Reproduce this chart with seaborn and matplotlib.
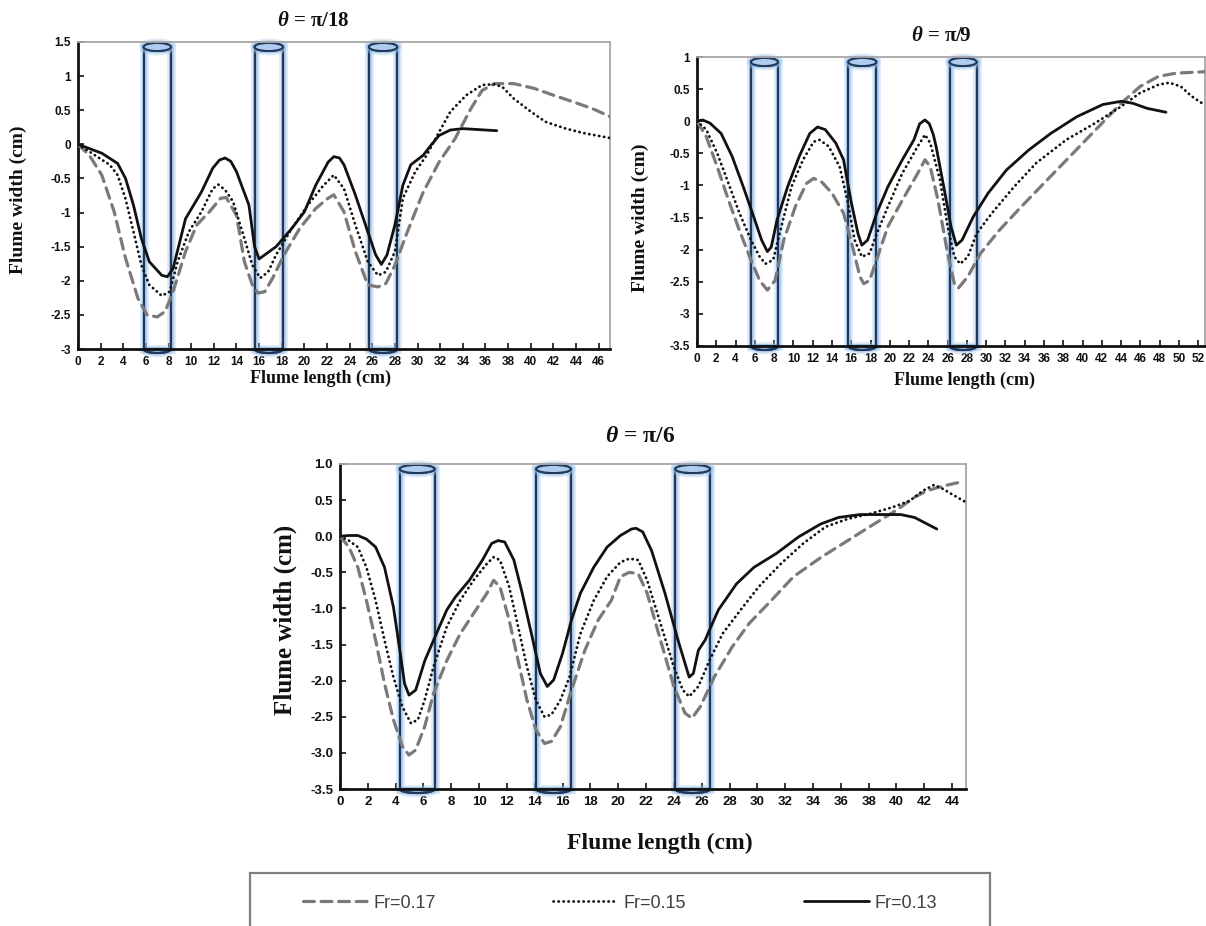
import numpy as np
import pandas as pd
import seaborn as sns
import matplotlib.pyplot as plt
from matplotlib.patches import Rectangle, Ellipse, Arc
import matplotlib.patheffects as pe

# ---------------------------------------------------------------- data
series_labels = ["Fr=0.17", "Fr=0.15", "Fr=0.13"]
panel_titles = [r"$\theta$ = π/18", r"$\theta$ = π/9", r"$\theta$ = π/6"]

# theta = pi/18
p1_fr17_x = [0, 1, 2.1, 3.2, 4.2, 5.3, 6.1, 7.0, 7.7, 8.4, 9.5, 10.5, 11.6, 12.6, 13.1, 14.0,
             14.7, 15.4, 15.9, 16.5, 17.2, 18.2, 19.6, 21.0, 22.1, 22.6, 23.5, 24.5, 25.6,
             26.5, 27.2, 28.0, 29.1, 30.5, 31.9, 33.3, 34.7, 35.7, 36.8, 38.5, 40.3, 42.0,
             43.8, 45.5, 47.1]
p1_fr17_y = [0, -0.16, -0.45, -0.99, -1.67, -2.26, -2.5, -2.53, -2.45, -2.16, -1.57, -1.18,
             -0.99, -0.79, -0.78, -1.04, -1.72, -2.06, -2.18, -2.16, -1.96, -1.62, -1.23,
             -0.94, -0.79, -0.74, -0.99, -1.57, -2.06, -2.09, -2.04, -1.77, -1.28, -0.7,
             -0.26, 0.08, 0.52, 0.79, 0.89, 0.89, 0.82, 0.72, 0.62, 0.52, 0.4]
p1_fr15_x = [0, 1.4, 2.8, 3.5, 4.2, 4.9, 5.6, 6.3, 7.4, 8.1, 8.8, 9.8, 10.9, 11.9, 12.4, 13.0,
             13.7, 14.7, 15.4, 16.1, 16.8, 17.5, 18.9, 20.3, 21.7, 22.6, 23.5, 24.5, 25.6,
             26.5, 27.2, 28.0, 28.7, 29.8, 30.8, 31.9, 32.9, 34.3, 35.7, 36.8, 37.5, 38.5,
             40.0, 41.3, 43.1, 44.8, 47.1]
p1_fr15_y = [0, -0.15, -0.3, -0.45, -0.8, -1.28, -1.77, -2.06, -2.22, -2.16, -1.72, -1.28,
             -0.99, -0.65, -0.59, -0.67, -0.84, -1.38, -1.77, -1.96, -1.87, -1.62, -1.23,
             -0.89, -0.6, -0.45, -0.65, -1.18, -1.72, -1.92, -1.87, -1.57, -0.79, -0.4,
             -0.16, 0.18, 0.48, 0.72, 0.87, 0.88, 0.84, 0.67, 0.48, 0.33, 0.23, 0.16, 0.09]
p1_fr13_x = [0, 2.1, 3.5, 4.2, 4.9, 5.6, 6.3, 7.4, 7.9, 8.4, 9.5, 10.9, 11.9, 12.5, 13.0, 13.5,
             14.0, 15.1, 15.6, 16.0, 17.5, 18.9, 20.0, 21.0, 22.1, 22.6, 23.1, 23.5, 24.5,
             25.6, 26.3, 26.8, 27.3, 28.0, 28.7, 29.4, 30.5, 31.2, 31.9, 32.9, 34.0, 35.0,
             37.0]
p1_fr13_y = [0, -0.13, -0.28, -0.5, -0.89, -1.38, -1.72, -1.92, -1.94, -1.82, -1.09, -0.7,
             -0.35, -0.23, -0.2, -0.25, -0.4, -0.89, -1.5, -1.68, -1.5, -1.23, -0.99, -0.6,
             -0.26, -0.18, -0.2, -0.3, -0.74, -1.28, -1.62, -1.76, -1.62, -1.18, -0.6, -0.3,
             -0.16, -0.01, 0.13, 0.21, 0.23, 0.22, 0.2]

# theta = pi/9
p2_fr17_x = [0, 0.96, 2.1, 3.27, 4.4, 5.6, 6.5, 7.3, 8.1, 9.0, 10.2, 11.35, 12.1, 12.9, 14.0,
             15.2, 16.15, 16.9, 17.3, 17.9, 18.85, 19.8, 21.3, 22.9, 23.65, 24.2, 25.0, 26.0,
             26.7, 27.1, 28.1, 29.4, 31.35, 33.65, 36.35, 39.0, 41.7, 44.0, 45.96, 47.9,
             49.8, 52.7]
p2_fr17_y = [0, -0.24, -0.71, -1.23, -1.7, -2.16, -2.48, -2.63, -2.48, -1.85, -1.33, -0.97,
             -0.89, -0.94, -1.12, -1.43, -1.96, -2.42, -2.53, -2.48, -2.06, -1.64, -1.23,
             -0.81, -0.6, -0.71, -1.23, -2.06, -2.53, -2.6, -2.42, -2.06, -1.7, -1.33,
             -0.91, -0.5, -0.08, 0.28, 0.54, 0.7, 0.75, 0.77]
p2_fr15_x = [0, 0.96, 2.1, 3.27, 4.4, 5.6, 6.5, 7.1, 7.9, 8.65, 9.8, 11.0, 12.1, 12.7, 13.65,
             14.8, 15.6, 16.35, 17.1, 17.9, 18.65, 19.8, 21.3, 22.9, 23.65, 24.2, 25.2, 26.0,
             26.7, 27.3, 28.1, 29.0, 30.6, 32.9, 35.2, 38.3, 41.3, 44.0, 45.96, 47.9, 49.0,
             50.2, 51.3, 52.7]
p2_fr15_y = [0, -0.13, -0.5, -0.97, -1.43, -1.85, -2.11, -2.22, -2.16, -1.7, -1.02, -0.6,
             -0.32, -0.29, -0.39, -0.71, -1.23, -1.85, -2.11, -2.06, -1.75, -1.33, -0.81,
             -0.39, -0.21, -0.34, -0.91, -1.64, -2.11, -2.22, -2.11, -1.75, -1.43, -1.02,
             -0.65, -0.29, -0.03, 0.23, 0.44, 0.57, 0.6, 0.54, 0.39, 0.25]
p2_fr13_x = [0, 0.58, 1.35, 2.5, 3.65, 4.8, 6.0, 6.7, 7.3, 7.7, 8.3, 9.4, 10.6, 11.7, 12.5,
             13.3, 14.4, 15.2, 15.96, 16.7, 17.1, 17.7, 18.65, 19.8, 21.3, 22.5, 23.1, 23.65,
             24.1, 24.5, 24.8, 25.6, 26.35, 26.9, 27.5, 28.65, 30.2, 32.1, 34.4, 36.7, 39.4,
             42.1, 44.0, 45.2, 46.7, 48.65]
p2_fr13_y = [0, 0.02, -0.03, -0.19, -0.55, -1.02, -1.54, -1.85, -2.03, -1.96, -1.54, -1.02,
             -0.55, -0.19, -0.09, -0.13, -0.34, -0.6, -1.23, -1.75, -1.93, -1.85, -1.43,
             -1.02, -0.6, -0.29, -0.04, 0.02, -0.04, -0.2, -0.39, -1.02, -1.64, -1.93, -1.85,
             -1.49, -1.12, -0.76, -0.45, -0.19, 0.07, 0.26, 0.31, 0.28, 0.2, 0.14]

# theta = pi/6
p3_fr17_x = [0, 0.64, 1.28, 1.9, 2.56, 3.2, 3.84, 4.48, 4.96, 5.44, 6.08, 6.72, 7.68, 8.64,
             9.6, 10.56, 11.04, 11.5, 12.16, 12.8, 13.44, 14.08, 14.7, 15.2, 15.84, 16.64,
             17.6, 18.56, 19.5, 20.16, 20.8, 21.44, 22.08, 23.04, 24.0, 24.8, 25.3, 25.9,
             26.9, 28.2, 29.4, 31.0, 32.6, 34.6, 36.5, 38.4, 40.0, 41.3, 42.2, 42.9, 43.7,
             44.6]
p3_fr17_y = [0, -0.15, -0.43, -0.89, -1.44, -2.04, -2.54, -2.91, -3.03, -2.96, -2.64, -2.18,
             -1.72, -1.35, -1.07, -0.79, -0.61, -0.7, -1.16, -1.72, -2.27, -2.68, -2.87,
             -2.84, -2.64, -2.13, -1.58, -1.16, -0.89, -0.56, -0.5, -0.52, -0.79, -1.44,
             -2.08, -2.45, -2.52, -2.36, -1.95, -1.53, -1.21, -0.89, -0.56, -0.29, -0.06,
             0.17, 0.36, 0.54, 0.63, 0.67, 0.71, 0.75]
p3_fr15_x = [0, 0.64, 1.28, 1.9, 2.56, 3.2, 3.84, 4.48, 5.1, 5.6, 6.08, 6.72, 7.68, 8.64, 9.6,
             10.56, 11.04, 11.5, 12.16, 12.8, 13.44, 14.08, 14.7, 15.2, 15.84, 16.5, 17.28,
             18.24, 19.2, 20.16, 20.8, 21.44, 22.08, 23.04, 24.0, 24.64, 25.1, 25.76, 26.56,
             27.5, 28.8, 30.1, 31.7, 33.3, 34.9, 36.5, 38.1, 39.7, 40.96, 41.9, 42.7, 43.3,
             44.0, 45.0]
p3_fr15_y = [0, -0.06, -0.15, -0.43, -0.89, -1.44, -1.95, -2.36, -2.59, -2.54, -2.27, -1.81,
             -1.25, -0.89, -0.61, -0.38, -0.29, -0.33, -0.7, -1.25, -1.81, -2.27, -2.5, -2.47,
             -2.27, -1.95, -1.35, -0.89, -0.56, -0.36, -0.31, -0.33, -0.61, -1.21, -1.81,
             -2.13, -2.22, -2.08, -1.72, -1.35, -1.02, -0.7, -0.38, -0.1, 0.13, 0.24, 0.31,
             0.4, 0.49, 0.63, 0.71, 0.66, 0.58, 0.47]
p3_fr13_x = [0, 0.64, 1.28, 1.9, 2.56, 3.2, 3.84, 4.3, 4.64, 4.96, 5.44, 6.1, 7.04, 7.68, 8.3,
             9.3, 10.24, 10.9, 11.36, 11.84, 12.5, 13.1, 13.76, 14.4, 14.9, 15.36, 16.0,
             16.64, 17.28, 18.24, 19.2, 20.16, 20.96, 21.28, 21.76, 22.4, 23.36, 24.3, 24.8,
             25.1, 25.4, 25.76, 26.24, 27.2, 28.5, 29.76, 31.36, 32.96, 34.56, 35.84, 37.4,
             39.0, 40.3, 41.3, 42.2, 42.9]
p3_fr13_y = [0, 0.01, 0.01, -0.04, -0.15, -0.43, -0.98, -1.58, -2.04, -2.2, -2.13, -1.72,
             -1.3, -1.02, -0.84, -0.61, -0.33, -0.1, -0.06, -0.08, -0.33, -0.79, -1.35, -1.9,
             -2.08, -1.99, -1.62, -1.16, -0.79, -0.43, -0.15, 0.01, 0.1, 0.11, 0.06, -0.2,
             -0.79, -1.44, -1.76, -1.95, -1.9, -1.58, -1.44, -1.02, -0.66, -0.43, -0.24,
             -0.01, 0.17, 0.26, 0.3, 0.3, 0.3, 0.26, 0.17, 0.1]

# pier (cylinder) positions along the flume, cm
p1_piers = [(5.8, 8.2), (15.6, 18.1), (25.7, 28.2)]
p2_piers = [(5.6, 8.4), (15.7, 18.6), (26.2, 29.0)]
p3_piers = [(4.3, 6.8), (14.1, 16.6), (24.1, 26.6)]

p1_xlim, p1_ylim, p1_yticks = (0, 47), (-3, 1.5), [-3, -2.5, -2, -1.5, -1, -0.5, 0, 0.5, 1, 1.5]
p2_xlim, p2_ylim, p2_yticks = (0, 52.7), (-3.5, 1), [-3.5, -3, -2.5, -2, -1.5, -1, -0.5, 0, 0.5, 1]
p3_xlim, p3_ylim, p3_yticks = (0, 45), (-3.5, 1.0), [-3.5, -3.0, -2.5, -2.0, -1.5, -1.0, -0.5, 0.0, 0.5, 1.0]
p1_ylabels = ["-3", "-2.5", "-2", "-1.5", "-1", "-0.5", "0", "0.5", "1", "1.5"]
p2_ylabels = ["-3.5", "-3", "-2.5", "-2", "-1.5", "-1", "-0.5", "0", "0.5", "1"]
p3_ylabels = ["-3.5", "-3.0", "-2.5", "-2.0", "-1.5", "-1.0", "-0.5", "0.0", "0.5", "1.0"]

# ---------------------------------------------------------------- style
sns.set_theme(style="white")
plt.rcParams["font.family"] = ["Liberation Serif", "DejaVu Serif"]
plt.rcParams["mathtext.fontset"] = "custom"
plt.rcParams["mathtext.it"] = "Liberation Serif:italic:bold"
plt.rcParams["mathtext.rm"] = "Liberation Serif:bold"
TICK_FONT = ["Liberation Sans Narrow", "Liberation Sans"]

W, H = 1206, 926
fig = plt.figure(figsize=(W / 100, H / 100), dpi=100)
fig.patch.set_facecolor("white")


def px_axes(left, right, top, bottom):
    return fig.add_axes([left / W, 1 - bottom / H, (right - left) / W, (bottom - top) / H])


STYLES = {
    "Fr=0.17": dict(color="#7a7a7a", lw=2.3, linestyle=(0, (3.4, 2.1)), dash_capstyle="round"),
    "Fr=0.15": dict(color="#111111", lw=2.0, linestyle=(0, (0.1, 1.7)), dash_capstyle="round"),
    "Fr=0.13": dict(color="#111111", lw=2.0, linestyle="-", solid_capstyle="round",
                    solid_joinstyle="round"),
}


def draw_pier(ax, x0, x1, ax_h_px):
    trans = ax.get_xaxis_transform()
    eh = 8.0 / ax_h_px
    ytop = 1 - 5.0 / ax_h_px
    ybot = 0.0
    navy = "#22385a"
    glow = [pe.withStroke(linewidth=6.5, foreground="#a7c9ee", alpha=0.35),
            pe.withStroke(linewidth=3.8, foreground="#8fbbe8", alpha=0.55),
            pe.Normal()]
    body = Rectangle((x0, ybot), x1 - x0, ytop - ybot, transform=trans, fill=False,
                     edgecolor=navy, lw=1.5, clip_on=False, zorder=2, path_effects=glow)
    ax.add_patch(body)
    cap = Ellipse(((x0 + x1) / 2, ytop), x1 - x0, eh, transform=trans, facecolor="#aecdee",
                  edgecolor=navy, lw=1.4, clip_on=False, zorder=2.5, path_effects=glow)
    ax.add_patch(cap)
    base = Arc(((x0 + x1) / 2, ybot), x1 - x0, eh, theta1=180, theta2=360, transform=trans,
               edgecolor=navy, lw=1.5, clip_on=False, zorder=2.5, path_effects=glow)
    ax.add_patch(base)


def make_panel(rect, xlim, ylim, yticks, ylabels, xtick_max, piers, data, tick_size):
    left, right, top, bottom = rect
    ax = px_axes(left, right, top, bottom)
    ax.set_facecolor("white")
    for (x0, x1) in piers:
        draw_pier(ax, x0, x1, bottom - top)
    for label, (xs, ys) in zip(series_labels, data):
        df = pd.DataFrame({"x": xs, "y": ys})
        sns.lineplot(data=df, x="x", y="y", ax=ax, sort=False, estimator=None,
                     label=label, zorder=3, **STYLES[label])
    ax.set_xlim(*xlim)
    ax.set_ylim(*ylim)
    xt = list(range(0, xtick_max + 1, 2))
    ax.set_xticks(xt)
    ax.set_xticklabels([str(v) for v in xt], fontfamily=TICK_FONT, fontweight="bold",
                       fontsize=tick_size)
    ax.set_yticks(yticks)
    ax.set_yticklabels(ylabels, fontfamily=TICK_FONT, fontweight="bold", fontsize=tick_size)
    ax.tick_params(axis="both", direction="in", length=4, width=1.2, colors="#111111",
                   pad=5, bottom=True, left=True)
    ax.set_xlabel("")
    ax.set_ylabel("")
    for side in ("left", "bottom"):
        ax.spines[side].set_color("#111111")
        ax.spines[side].set_linewidth(2.0)
    for side in ("top", "right"):
        ax.spines[side].set_color("#a6a6a6")
        ax.spines[side].set_linewidth(1.3)
    ax.legend_.remove()
    ax.grid(False)
    return ax


ax1 = make_panel((78, 610, 42, 349), p1_xlim, p1_ylim, p1_yticks, p1_ylabels, 46, p1_piers,
                 [(p1_fr17_x, p1_fr17_y), (p1_fr15_x, p1_fr15_y), (p1_fr13_x, p1_fr13_y)], 8.5)
ax2 = make_panel((697, 1205, 57, 346), p2_xlim, p2_ylim, p2_yticks, p2_ylabels, 52, p2_piers,
                 [(p2_fr17_x, p2_fr17_y), (p2_fr15_x, p2_fr15_y), (p2_fr13_x, p2_fr13_y)], 8.5)
ax3 = make_panel((340, 966, 464, 789), p3_xlim, p3_ylim, p3_yticks, p3_ylabels, 44, p3_piers,
                 [(p3_fr17_x, p3_fr17_y), (p3_fr15_x, p3_fr15_y), (p3_fr13_x, p3_fr13_y)], 9.5)

# titles and axis titles
lab = dict(fontweight="bold", color="#111111", ha="center", va="center")
fig.text(313 / W, 1 - 21 / H, panel_titles[0], fontsize=15, **lab)
fig.text(941 / W, 1 - 36 / H, panel_titles[1], fontsize=15, **lab)
fig.text(640 / W, 1 - 437 / H, panel_titles[2], fontsize=17, **lab)

fig.text(320 / W, 1 - 378 / H, "Flume length (cm)", fontsize=13, **lab)
fig.text(965 / W, 1 - 380 / H, "Flume length (cm)", fontsize=13, **lab)
fig.text(660 / W, 1 - 843 / H, "Flume length (cm)", fontsize=17, **lab)

fig.text(18 / W, 1 - 200 / H, "Flume width (cm)", fontsize=14, rotation=90, **lab)
fig.text(640 / W, 1 - 218 / H, "Flume width (cm)", fontsize=14, rotation=90, **lab)
fig.text(285 / W, 1 - 620 / H, "Flume width (cm)", fontsize=18, rotation=90, **lab)

# shared legend in a framed strip along the bottom
handles, labels = [], []
for line in ax3.get_lines()[:3]:
    handles.append(line)
    labels.append(line.get_label())
frame = Rectangle((250 / W, -0.05), (990 - 250) / W, 0.05 + (926 - 873) / H,
                  transform=fig.transFigure, facecolor="white", edgecolor="#7f7f7f", lw=1.6,
                  zorder=0)
fig.patches.append(frame)
leg = fig.legend(handles, labels, loc="center", bbox_to_anchor=(620 / W, 1 - 903 / H),
                 ncol=3, frameon=False, handlelength=3.6, handletextpad=0.3,
                 columnspacing=6.5, prop={"family": ["Liberation Sans Narrow", "Liberation Sans"],
                                           "size": 13})
for t in leg.get_texts():
    t.set_color("#404040")

fig.savefig("out.png", dpi=100, facecolor="white")
